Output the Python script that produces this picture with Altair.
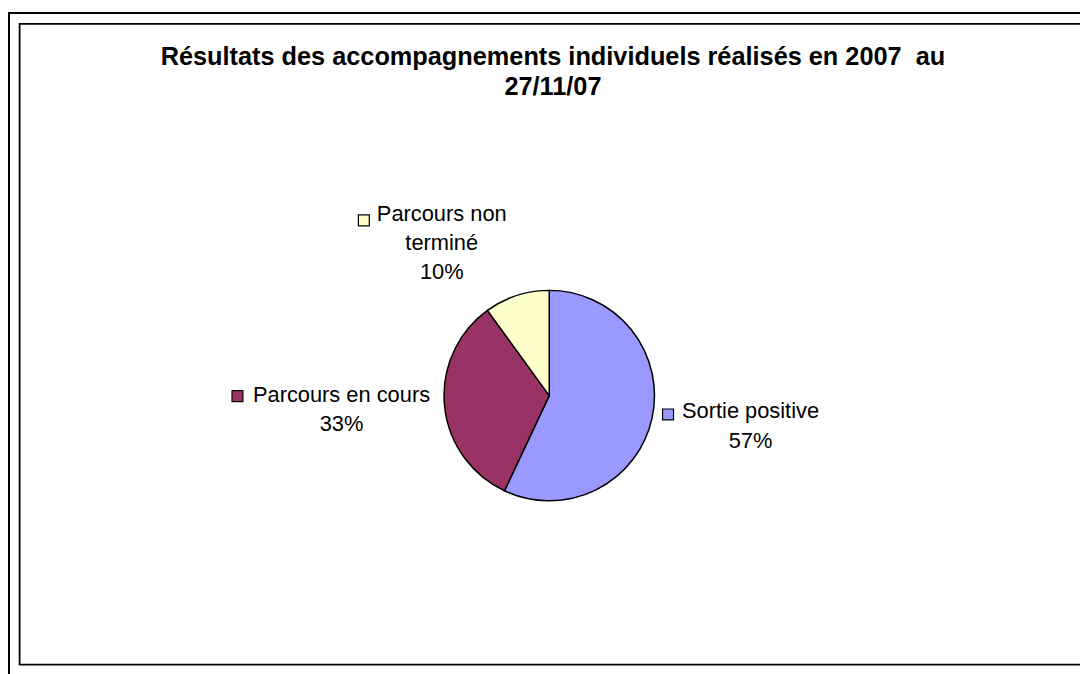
import altair as alt
import pandas as pd

categories = ["Sortie positive", "Parcours en cours", "Parcours non terminé"]
values = [57, 33, 10]
label_names = ["Sortie positive", "Parcours en cours", "Parcours non\nterminé"]
colors = ["#9999FF", "#993366", "#FFFFCC"]
title_lines = ["Résultats des accompagnements individuels réalisés en 2007\u00a0\u00a0au", "27/11/07"]

df = pd.DataFrame({
    "cat": categories,
    "v": values,
    "order": list(range(len(categories))),
    "label": [f"{n}\n{v}%" for n, v in zip(label_names, values)],
})

FONT = "Liberation Sans"
CX, CY = 545.3, 388.0
R_LAB = 200
color_scale = alt.Scale(domain=categories, range=colors)

one = pd.DataFrame({"a": [0]})

outer = alt.Chart(one).mark_rect(filled=False, stroke="black", strokeWidth=2).encode(
    x=alt.value(1), x2=alt.value(1300), y=alt.value(2.5), y2=alt.value(1000)
)
inner = alt.Chart(one).mark_rect(filled=False, stroke="black", strokeWidth=1.8).encode(
    x=alt.value(11.7), x2=alt.value(1300), y=alt.value(13.5), y2=alt.value(659)
)

title = alt.Chart(one).mark_text(
    font=FONT, fontSize=25.5, fontWeight="bold", align="center", baseline="alphabetic", lineHeight=31
).encode(text=alt.value(title_lines), x=alt.value(549), y=alt.value(54.5))

pie = alt.Chart(df).mark_arc(outerRadius=106, stroke="black", strokeWidth=1.5).encode(
    theta=alt.Theta("v:Q", stack=True),
    color=alt.Color("cat:N", scale=color_scale, legend=None),
    order=alt.Order("order:Q"),
    x=alt.value(CX),
    y=alt.value(CY),
)

base = (
    alt.Chart(df)
    .transform_joinaggregate(total="sum(v)")
    .transform_window(cum="sum(v)", sort=[alt.SortField("order")])
    .transform_calculate(
        mid="(datum.cum - datum.v/2) / datum.total * 2 * PI",
        px=f"{CX} + {R_LAB} * sin(datum.mid)",
        py=f"{CY} - {R_LAB} * cos(datum.mid)",
    )
)

# label offsets: (text dx, text dy, square dx, square dy)
offsets = {
    "Sortie positive": (7.6, -20.6, -75.5, -24.6),
    "Parcours en cours": (-10.2, -12.5, -115.0, -18.3),
    "Parcours non terminé": (-46.5, 14.2, -125.0, 13.7),
}

layers = [outer, inner, title, pie]
for cat in categories:
    tdx, tdy, sdx, sdy = offsets[cat]
    sub = base.transform_filter(alt.datum.cat == cat)
    layers.append(
        sub.mark_text(
            font=FONT, fontSize=22, align="center", baseline="alphabetic",
            lineHeight=29.5, lineBreak="\n", dx=tdx, dy=tdy, color="black"
        ).encode(
            x=alt.X("px:Q", scale=None, axis=None),
            y=alt.Y("py:Q", scale=None, axis=None),
            text="label:N",
        )
    )
    layers.append(
        sub.mark_square(
            size=121, filled=True, stroke="black", strokeWidth=1.2, opacity=1,
            xOffset=sdx, yOffset=sdy
        ).encode(
            x=alt.X("px:Q", scale=None, axis=None),
            y=alt.Y("py:Q", scale=None, axis=None),
            fill=alt.Fill("cat:N", scale=color_scale, legend=None),
        )
    )

chart = (
    alt.layer(*layers)
    .properties(width=1080, height=666, autosize=alt.AutoSizeParams(type="none"), padding=0, background="white")
    .configure_view(stroke=None)
)

chart.save("out.html", embed_options={"renderer": "svg", "actions": False})
